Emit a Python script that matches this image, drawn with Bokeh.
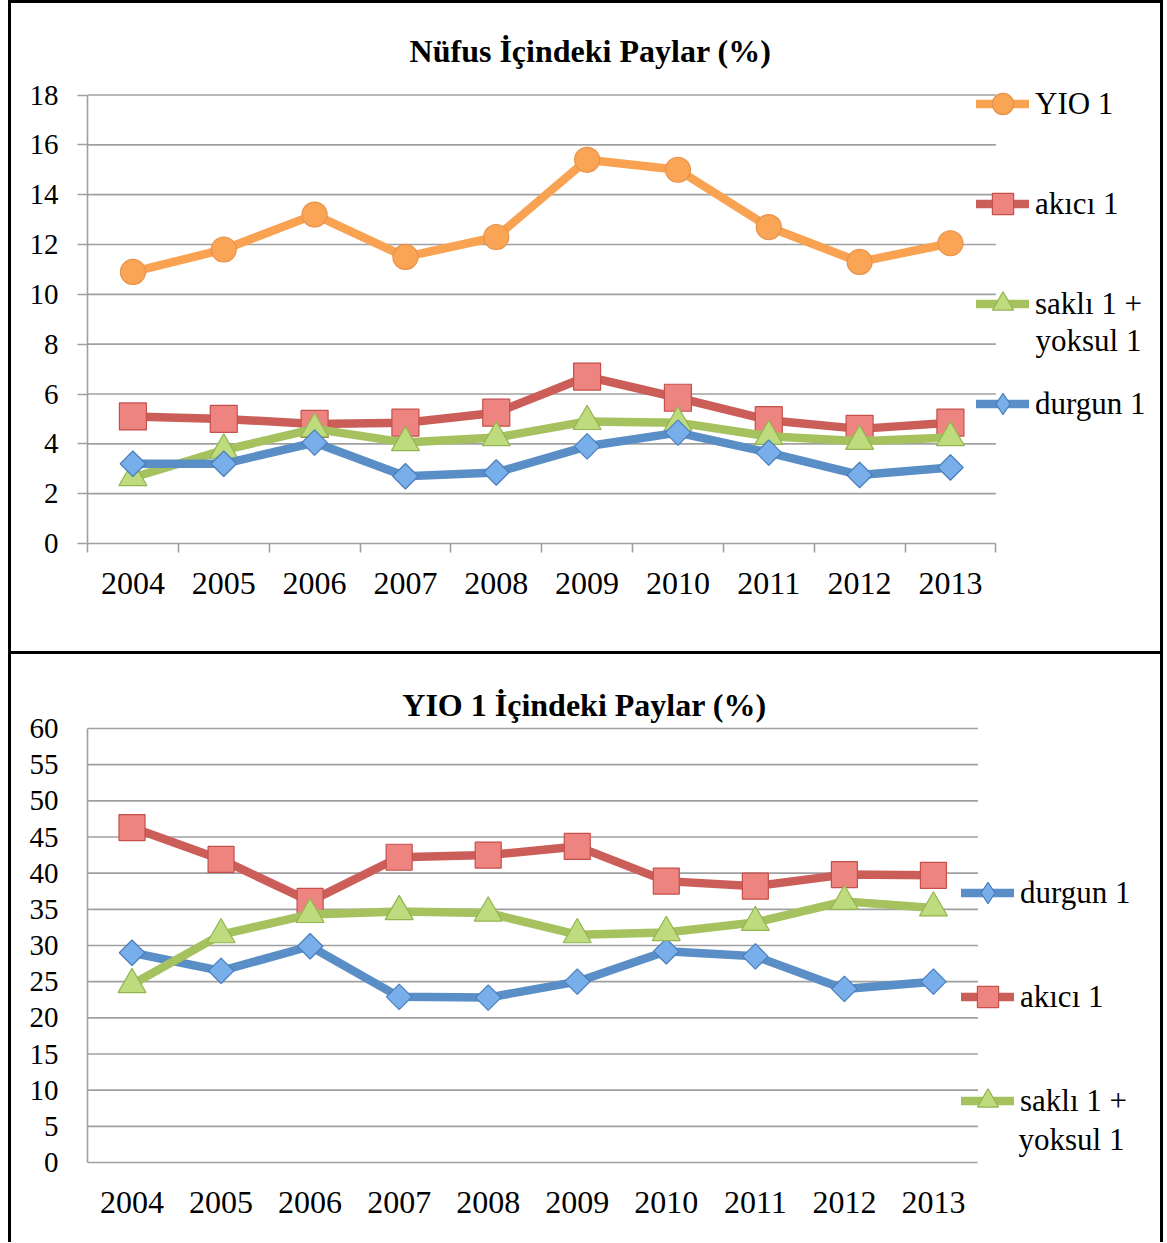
import math
from bokeh.plotting import figure
from bokeh.layouts import column
from bokeh.models import (Range1d, FixedTicker, Legend, LegendItem, Label)
from bokeh.embed import file_html
from bokeh.resources import INLINE

# ---------------- data ----------------
years = ["2004", "2005", "2006", "2007", "2008", "2009", "2010", "2011", "2012", "2013"]

# Top chart: Nüfus İçindeki Paylar (%)
top_yio1 = [10.9, 11.8, 13.2, 11.5, 12.3, 15.4, 15.0, 12.7, 11.3, 12.05]
top_akici1 = [5.1, 5.0, 4.8, 4.85, 5.25, 6.7, 5.85, 4.95, 4.6, 4.85]
top_sakli_yoksul1 = [2.65, 3.75, 4.6, 4.05, 4.25, 4.9, 4.85, 4.3, 4.1, 4.25]
top_durgun1 = [3.2, 3.2, 4.05, 2.7, 2.85, 3.9, 4.45, 3.65, 2.75, 3.05]
top_yticks = list(range(0, 19, 2))

# Bottom chart: YIO 1 İçindeki Paylar (%)
bot_durgun1 = [29.0, 26.5, 29.9, 22.9, 22.8, 25.0, 29.2, 28.5, 24.0, 25.0]
bot_akici1 = [46.3, 41.9, 36.1, 42.2, 42.5, 43.7, 38.9, 38.2, 39.8, 39.7]
bot_sakli_yoksul1 = [24.6, 31.5, 34.3, 34.7, 34.5, 31.5, 31.8, 33.2, 36.1, 35.2]
bot_yticks = list(range(0, 61, 5))

title_top = "Nüfus İçindeki Paylar (%)"
title_bot = "YIO 1 İçindeki Paylar (%)"

# ---------------- styles ----------------
FONT = "Liberation Serif"
GRID = "#a0a0a0"
ORANGE = dict(line="#f8a252", fill="#f9a555", edge="#e8914a")
RED = dict(line="#cc5e59", fill="#ee8480", edge="#c44f4b")
GREEN = dict(line="#a5c25f", fill="#bedb7d", edge="#93b451")
BLUE = dict(line="#5a8ec6", fill="#78aeea", edge="#4a7ebb")

n = len(years)
xs = [i + 0.5 for i in range(n)]
overrides = {x: y for x, y in zip(xs, years)}


def make_fig(width, height, ml, mb, frame_w, data_w, ymax, yticks, ticks, xstand, ystand):
    # frame spans to the top/right canvas edge so the legend/labels are not clipped
    p = figure(width=width, height=height, output_backend="svg", toolbar_location=None,
               min_border_left=ml, min_border_right=0, min_border_top=0, min_border_bottom=mb)
    p.x_range = Range1d(0, n * frame_w / data_w)
    p.outline_line_color = None
    p.background_fill_color = "white"
    p.border_fill_color = "white"
    p.xgrid.visible = False
    p.ygrid.visible = False
    # horizontal grid lines limited to the data area
    gy = [t for t in yticks if t > 0]
    p.segment(x0=[0] * len(gy), x1=[n] * len(gy), y0=gy, y1=gy,
              line_color=GRID, line_width=1.6)
    # x axis
    xa = p.xaxis[0]
    xa.bounds = (0, n)
    xa.ticker = FixedTicker(ticks=xs, minor_ticks=list(range(n + 1)) if ticks else [])
    xa.major_label_overrides = overrides
    xa.major_tick_line_color = None
    xa.major_tick_out = 0
    xa.major_tick_in = 0
    xa.minor_tick_line_color = GRID if ticks else None
    xa.minor_tick_line_width = 1.6
    xa.minor_tick_out = 9
    xa.minor_tick_in = 0
    xa.axis_line_color = GRID
    xa.axis_line_width = 1.6
    xa.major_label_text_font = FONT
    xa.major_label_text_font_size = "32px"
    xa.major_label_text_color = "black"
    xa.major_label_standoff = xstand
    # y axis
    ya = p.yaxis[0]
    ya.bounds = (0, ymax)
    ya.ticker = FixedTicker(ticks=yticks)
    ya.minor_tick_line_color = None
    ya.axis_line_color = GRID
    ya.axis_line_width = 1.6
    if ticks:
        ya.major_tick_line_color = GRID
        ya.major_tick_line_width = 1.6
        ya.major_tick_out = 10
    else:
        ya.major_tick_line_color = None
        ya.major_tick_out = 0
    ya.major_tick_in = 0
    ya.major_label_standoff = ystand
    ya.major_label_text_font = FONT
    ya.major_label_text_font_size = "29px"
    ya.major_label_text_color = "black"
    return p


def add_series(p, ys, col, marker, size, angle=0.0, legend_marker=None):
    lr = p.line(xs, ys, line_color=col["line"], line_width=8.5, line_join="round", line_cap="round")
    lm = None
    if legend_marker is not None:
        # legend glyphs ignore the marker angle: a small diamond (hidden under the
        # rotated squares) provides the legend symbol
        lm = p.scatter(xs, ys, marker=legend_marker, size=size * 0.9, fill_color=col["fill"],
                       line_color=col["edge"], line_width=1.2)
    sr = p.scatter(xs, ys, marker=marker, size=size, angle=angle, fill_color=col["fill"],
                   line_color=col["edge"], line_width=1.2)
    return [lr, lm] if lm is not None else [lr, sr]


def add_legend(p, items, vx, vy, spacing):
    leg = Legend(items=items, location=(vx, vy), orientation="vertical",
                 glyph_width=53, glyph_height=55, spacing=spacing, padding=0, margin=0,
                 label_standoff=6, label_text_font=FONT, label_text_font_size="31px",
                 label_text_color="black", border_line_color=None,
                 background_fill_alpha=0, label_height=55)
    p.add_layout(leg)
    return leg


def add_text(p, text, x, y, size="31px", bold=False, align="left"):
    p.add_layout(Label(x=x, y=y, x_units="screen", y_units="screen", text=text,
                       text_font=FONT, text_font_size=size, text_color="black",
                       text_font_style="bold" if bold else "normal",
                       text_align=align, text_baseline="middle"))


# ---------------- top chart ----------------
TOP_FW, TOP_FH = 1149 - 76, 654 - 114
TOP_DW, TOP_DH = 903.3, 448.5          # pixel size of the 10 x 18 data area
p1 = make_fig(1155, 654, 76, 114, TOP_FW, TOP_DW, 18, top_yticks, True, 20, 19)
p1.y_range = Range1d(0, 18 * TOP_FH / TOP_DH)
r_yio = add_series(p1, top_yio1, ORANGE, "circle", 25)
r_ak = add_series(p1, top_akici1, RED, "square", 27)
r_sk = add_series(p1, top_sakli_yoksul1, GREEN, "triangle", 28)
r_dg = add_series(p1, top_durgun1, BLUE, "square", 18, math.pi / 4, legend_marker="diamond")
add_legend(p1, [LegendItem(label="YIO 1", renderers=r_yio),
                LegendItem(label="akıcı 1", renderers=r_ak),
                LegendItem(label="saklı 1 +", renderers=r_sk),
                LegendItem(label="durgun 1", renderers=r_dg)], 889, 112, 45)
add_text(p1, "yoksul 1", 948, 203)
add_text(p1, title_top, 503, 493, size="32px", bold=True, align="center")
p1.styles = {"border": "3px solid black", "margin-left": "8px"}

# ---------------- bottom chart ----------------
BOT_FW, BOT_FH = 1149 - 76, 588 - 80
BOT_DW, BOT_DH = 885.5, 434.0          # pixel size of the 10 x 60 data area
p2 = make_fig(1155, 588, 76, 80, BOT_FW, BOT_DW, 60, bot_yticks, False, 29, 29)
p2.y_range = Range1d(0, 60 * BOT_FH / BOT_DH)
b_dg = add_series(p2, bot_durgun1, BLUE, "square", 18, math.pi / 4, legend_marker="diamond")
b_ak = add_series(p2, bot_akici1, RED, "square", 26)
b_sk = add_series(p2, bot_sakli_yoksul1, GREEN, "triangle", 28)
add_legend(p2, [LegendItem(label="durgun 1", renderers=b_dg),
                LegendItem(label="akıcı 1", renderers=b_ak),
                LegendItem(label="saklı 1 +", renderers=b_sk)], 874, 34, 49)
add_text(p2, "yoksul 1", 931, 23)
add_text(p2, title_bot, 497, 458, size="32px", bold=True, align="center")
p2.styles = {"border-left": "3px solid black", "border-right": "3px solid black",
             "margin-left": "8px"}

layout = column(p1, p2, spacing=0)
open("out.html", "w").write(file_html(layout, INLINE))
